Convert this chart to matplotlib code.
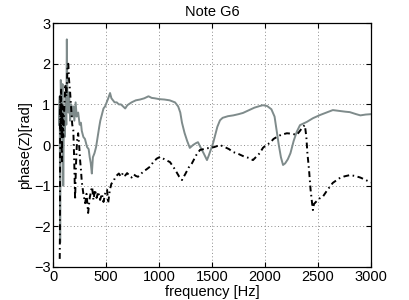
"""
Input impedance phase for note G6
"""

import matplotlib
matplotlib.use('Agg')
import matplotlib.pyplot as plt

# gray curve (solid)
f_gray = [55, 62, 66, 72, 80, 88, 95, 102, 110, 118, 124, 129, 135, 143, 150,
          160, 170, 180, 190, 200, 212, 222, 236, 250, 262, 270, 285, 300,
          320, 335, 345, 355, 365, 375, 390, 405, 420, 435, 445, 460, 475,
          490, 505, 520, 537, 550, 565, 580, 600, 620, 640, 660, 680, 700,
          740, 780, 820, 860, 900, 930, 960, 1000, 1050, 1100, 1150, 1180,
          1200, 1216, 1240, 1265, 1290, 1320, 1350, 1367, 1390, 1420, 1452,
          1470, 1490, 1510, 1530, 1550, 1575, 1600, 1650, 1700, 1750, 1792,
          1850, 1900, 1950, 1980, 2020, 2060, 2090, 2110, 2130, 2150, 2170,
          2190, 2215, 2240, 2270, 2300, 2330, 2395, 2452, 2520, 2580, 2640,
          2700, 2760, 2800, 2860, 2900, 2950, 3000]
ph_gray = [0.5, 1.2, -2.4, 1.6, 0.6, 1.5, -1.0, 0.9, 0.2, 1.3, 0.5, 2.6, 0.9,
           0.8, 1.3, 0.6, 1.0, 0.7, 0.95, 0.6, 1.05, 0.7, 0.8, 0.5, 0.55,
           0.35, 0.2, 0.15, -0.05, -0.1, -0.3, -0.45, -0.7, -0.3, -0.2,
           -0.05, 0.2, 0.45, 0.6, 0.75, 0.9, 0.95, 1.05, 1.15, 1.28, 1.15,
           1.1, 1.05, 1.05, 1.0, 1.0, 0.95, 0.9, 0.98, 1.05, 1.1, 1.12, 1.15,
           1.2, 1.16, 1.15, 1.13, 1.12, 1.1, 1.05, 0.95, 0.8, 0.55, 0.3, 0.1,
           -0.07, 0.0, 0.05, 0.07, -0.05, -0.2, -0.37, -0.25, -0.1, 0.05,
           0.25, 0.45, 0.61, 0.67, 0.71, 0.73, 0.76, 0.79, 0.86, 0.92, 0.96,
           0.98, 0.96, 0.88, 0.7, 0.35, 0.0, -0.3, -0.49, -0.45, -0.35, -0.2,
           0.1, 0.33, 0.49, 0.57, 0.66, 0.74, 0.8, 0.86, 0.84, 0.82, 0.81,
           0.76, 0.73, 0.75, 0.76]

# black curve (dash-dot)
f_black = [62, 64, 66, 70, 75, 82, 88, 95, 105, 115, 125, 135, 143, 150, 160,
           170, 180, 190, 198, 207, 215, 225, 236, 245, 255, 262, 270, 285,
           302, 315, 330, 345, 360, 368, 380, 395, 410, 425, 443, 460, 475,
           490, 509, 519, 535, 550, 570, 585, 600, 620, 640, 660, 680, 698,
           720, 740, 760, 780, 800, 820, 850, 880, 915, 950, 980, 1010, 1050,
           1103, 1150, 1190, 1216, 1250, 1280, 1310, 1350, 1386, 1420, 1450,
           1480, 1520, 1575, 1620, 1660, 1697, 1750, 1800, 1850, 1886, 1920,
           1950, 1980, 2010, 2046, 2080, 2112, 2150, 2206, 2250, 2300, 2330,
           2357, 2376, 2390, 2400, 2415, 2430, 2445, 2452, 2462, 2480, 2510,
           2546, 2590, 2640, 2700, 2750, 2800, 2850, 2900, 2950, 3000]
ph_black = [-2.8, -2.0, 1.2, 0.3, 1.4, -0.4, 1.0, 0.2, 0.9, 1.5, 1.2, 1.9,
            2.0, 1.6, 1.3, 0.9, 0.5, 0.37, -0.3, -1.35, -0.5, 0.1, 0.29, 0.0,
            -0.4, -0.6, -0.9, -1.2, -1.43, -1.2, -1.67, -1.3, -1.1, -1.03,
            -1.35, -1.1, -1.3, -1.15, -1.35, -1.2, -1.4, -1.2, -1.1, -1.43,
            -1.1, -0.95, -0.9, -0.79, -0.75, -0.7, -0.78, -0.68, -0.75, -0.69,
            -0.75, -0.8, -0.72, -0.76, -0.78, -0.74, -0.65, -0.6, -0.53, -0.4,
            -0.33, -0.29, -0.35, -0.42, -0.6, -0.78, -0.86, -0.7, -0.55,
            -0.45, -0.25, -0.12, -0.1, -0.08, -0.07, -0.05, 0.0, -0.05, -0.1,
            -0.17, -0.22, -0.28, -0.32, -0.37, -0.28, -0.2, -0.07, 0.0, 0.05,
            0.15, 0.2, 0.25, 0.29, 0.28, 0.25, 0.35, 0.45, 0.49, 0.2, -0.2,
            -0.6, -1.1, -1.45, -1.6, -1.45, -1.4, -1.32, -1.27, -1.1, -0.93,
            -0.82, -0.77, -0.74, -0.76, -0.8, -0.86, -0.92]

xticks = [0, 500, 1000, 1500, 2000, 2500, 3000]
yticks = [-3, -2, -1, 0, 1, 2, 3]

plt.rcParams['font.family'] = ['Liberation Sans', 'DejaVu Sans']

fig = plt.figure(figsize=(4.09, 3.0), dpi=100)
ax = fig.add_axes([0.130, 0.110, 0.777, 0.813])

ax.plot(f_gray, ph_gray, color='#7f8b8b', lw=1.4)
ax.plot(f_black, ph_black, color='black', lw=1.4, ls=(0, (3, 1.8, 0.8, 1.8)))

ax.set_xlim(0, 3000)
ax.set_ylim(-3, 3)
ax.set_xticks(xticks)
ax.set_yticks(yticks)
ax.grid(True, ls=(0, (1, 2.5)), color='#8c8c8c', lw=0.7)
ax.tick_params(direction='in', top=True, right=True, length=3.5,
               labelsize=10.5, pad=2)
for sp in ax.spines.values():
    sp.set_linewidth(0.9)

ax.set_title('Note G6', fontsize=10.5, pad=5)
ax.set_xlabel('frequency [Hz]', fontsize=10.5, labelpad=1)
ax.set_ylabel('phase(Z)[rad]', fontsize=10.5, labelpad=1)

fig.savefig('out.png', dpi=100)
